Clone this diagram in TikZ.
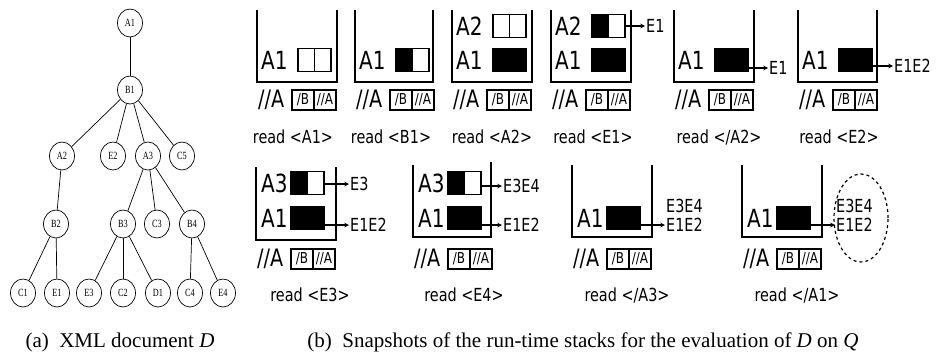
\documentclass[tikz,border=0pt]{standalone}
\usepackage{fontspec}
\setmainfont{Liberation Serif}
\newfontfamily\stackfont[FakeStretch=0.8]{DejaVu Sans}
\newfontfamily\treefont[FakeStretch=0.75]{Liberation Serif}
\usetikzlibrary{positioning,shapes.geometric}

\begin{document}
\begin{tikzpicture}[x=1pt, y=-1pt,
  tnode/.style={draw, ellipse, line width=0.7pt, minimum width=25pt, minimum height=28pt, inner sep=0pt, font=\treefont\fontsize{11}{11}\selectfont},
  tedge/.style={line width=0.7pt},
  wall/.style={line width=1.1pt},
  cell/.style={draw, line width=1.6pt, minimum width=16.5pt, minimum height=23pt, inner sep=0pt, outer sep=0pt},
  qcell/.style={draw, line width=1.3pt, minimum width=22pt, minimum height=20pt, inner sep=0pt, outer sep=0pt, font=\stackfont\fontsize{15}{15}\selectfont},
  elt/.style={anchor=west, inner sep=0pt, font=\stackfont\fontsize{25}{25}\selectfont},
  qry/.style={anchor=west, inner sep=0pt, font=\stackfont\fontsize{24}{24}\selectfont},
  res/.style={anchor=west, inner sep=1pt, font=\stackfont\fontsize{18}{18}\selectfont},
  lbl/.style={font=\stackfont\fontsize{18}{18}\selectfont},
  arr/.style={->, >=stealth, line width=1.1pt},
  subcap/.style={font=\fontsize{21}{21}\selectfont}
]
  \useasboundingbox (0,0) rectangle (941,354);

  % (a) the document tree
  \node[tnode] (a1) at (130,23)  {A1};
  \node[tnode] (b1) at (130,90)  {B1};
  \node[tnode] (a2) at (62,156)  {A2};
  \node[tnode] (e2) at (113,156) {E2};
  \node[tnode] (a3) at (148,156) {A3};
  \node[tnode] (c5) at (182,156) {C5};
  \node[tnode] (b2) at (56,224)  {B2};
  \node[tnode] (b3) at (123,224) {B3};
  \node[tnode] (c3) at (157,224) {C3};
  \node[tnode] (b4) at (192,224) {B4};
  \node[tnode] (c1) at (23,293)  {C1};
  \node[tnode] (e1) at (57,293)  {E1};
  \node[tnode] (e3) at (89,293)  {E3};
  \node[tnode] (c2) at (123,293) {C2};
  \node[tnode] (d1) at (158,293) {D1};
  \node[tnode] (c4) at (190,293) {C4};
  \node[tnode] (e4) at (223,293) {E4};

  \foreach \u/\v in {a1/b1, b1/a2, b1/e2, b1/a3, b1/c5, a2/b2, a3/b3, a3/c3, a3/b4,
                     b2/c1, b2/e1, b3/e3, b3/c2, b3/d1, b4/c4, b4/e4}
    \draw[tedge] (\u) -- (\v);

  \node[subcap] (capa) at (120,342) {(a)\enspace XML document \textit{D}};

  % (b) top row of stacks
  \draw[wall] (257,10) -- (257,82) -- (337,82) -- (337,10);
  \node[elt] (n1) at (261,60) {A1};
  \node[cell, anchor=west] (k1l) at (298,60) {};
  \node[cell, right=0pt of k1l] (k1r) {};

  \draw[wall] (355,10) -- (355,82) -- (433,82) -- (433,10);
  \node[elt] (n2) at (359,60) {A1};
  \node[cell, anchor=west, fill=black] (k2l) at (396,60) {};
  \node[cell, right=0pt of k2l] (k2r) {};

  \draw[wall] (452,10) -- (452,82) -- (532,82) -- (532,10);
  \node[elt] (n3u) at (456,26) {A2};
  \node[cell, anchor=west] (k3ul) at (493,26) {};
  \node[cell, right=0pt of k3ul] (k3ur) {};
  \node[elt] (n3) at (456,60) {A1};
  \node[cell, anchor=west, fill=black] (k3l) at (493,60) {};
  \node[cell, right=0pt of k3l, fill=black] (k3r) {};

  \draw[wall] (551,10) -- (551,82) -- (631,82) -- (631,10);
  \node[elt] (n4u) at (555,26) {A2};
  \node[cell, anchor=west, fill=black] (k4ul) at (592,26) {};
  \node[cell, right=0pt of k4ul] (k4ur) {};
  \node[elt] (n4) at (555,60) {A1};
  \node[cell, anchor=west, fill=black] (k4l) at (592,60) {};
  \node[cell, right=0pt of k4l, fill=black] (k4r) {};
  \node[res] (r4) at (645,26) {E1};
  \draw[arr] (k4ur.east) -- (r4.west);

  \draw[wall] (674,10) -- (674,82) -- (754,82) -- (754,10);
  \node[elt] (n5) at (678,60) {A1};
  \node[cell, anchor=west, fill=black] (k5l) at (715,60) {};
  \node[cell, right=0pt of k5l, fill=black] (k5r) {};
  \node[res] (r5) at (768,68) {E1};
  \draw[arr] (k5r.east |- r5.west) -- (r5.west);

  \draw[wall] (798,10) -- (798,82) -- (877,82) -- (877,10);
  \node[elt] (n6) at (802,60) {A1};
  \node[cell, anchor=west, fill=black] (k6l) at (839,60) {};
  \node[cell, right=0pt of k6l, fill=black] (k6r) {};
  \node[res] (r6) at (893,66) {E1E2};
  \draw[arr] (k6r.east |- r6.west) -- (r6.west);

  % (b) bottom row of stacks
  \draw[wall] (256,167) -- (256,240) -- (336,240) -- (336,167);
  \node[elt] (n7u) at (261,183) {A3};
  \node[cell, anchor=west, fill=black] (k7ul) at (291,183) {};
  \node[cell, right=0pt of k7ul] (k7ur) {};
  \node[elt] (n7) at (261,218) {A1};
  \node[cell, anchor=west, fill=black] (k7l) at (291,218) {};
  \node[cell, right=0pt of k7l, fill=black] (k7r) {};
  \node[res] (r7u) at (349,184) {E3};
  \node[res] (r7) at (349,225) {E1E2};
  \draw[arr] (k7ur.east |- r7u.west) -- (r7u.west);
  \draw[arr] (k7r.east |- r7.west) -- (r7.west);

  \draw[wall] (413,165) -- (413,237) -- (491,237) -- (491,162);
  \node[elt] (n8u) at (418,183) {A3};
  \node[cell, anchor=west, fill=black] (k8ul) at (448,183) {};
  \node[cell, right=0pt of k8ul] (k8ur) {};
  \node[elt] (n8) at (418,218) {A1};
  \node[cell, anchor=west, fill=black] (k8l) at (448,218) {};
  \node[cell, right=0pt of k8l, fill=black] (k8r) {};
  \node[res] (r8u) at (502,186) {E3E4};
  \node[res] (r8) at (502,225) {E1E2};
  \draw[arr] (k8ur.east |- r8u.west) -- (r8u.west);
  \draw[arr] (k8r.east |- r8.west) -- (r8.west);

  \draw[wall] (572,165) -- (572,237) -- (652,237) -- (652,165);
  \node[elt] (n9) at (577,218) {A1};
  \node[cell, anchor=west, fill=black] (k9l) at (607,218) {};
  \node[cell, right=0pt of k9l, fill=black] (k9r) {};
  \node[res] (r9u) at (665,206) {E3E4};
  \node[res] (r9) at (665,225) {E1E2};
  \draw[arr] (k9r.east |- r9.west) -- (r9.west);

  \draw[wall] (742,165) -- (742,237) -- (822,237) -- (822,165);
  \node[elt] (n10) at (747,218) {A1};
  \node[cell, anchor=west, fill=black] (k10l) at (777,218) {};
  \node[cell, right=0pt of k10l, fill=black] (k10r) {};
  \node[res] (r10u) at (835,206) {E3E4};
  \node[res] (r10) at (835,225) {E1E2};
  \draw[arr] (k10r.east |- r10.west) -- (r10.west);
  \node[draw, ellipse, dashed, line width=1.2pt, minimum width=54pt, minimum height=88pt] (out) at (861,218) {};

  % query rows and read events
  \foreach \i/\x/\y/\lx/\ly/\t in {1/257/100/293/137/{<A1>}, 2/355/100/391/137/{<B1>},
      3/452/100/492/137/{<A2>}, 4/551/100/593/137/{<E1>}, 5/674/100/719/137/{</A2>},
      6/798/100/839/137/{<E2>}, 7/256/259/310/295/{<E3>}, 8/413/259/464/295/{<E4>},
      9/572/259/627/295/{</A3>}, 10/742/259/797/295/{</A1>}} {
    \node[qry] (q\i) at (\x+1,\y) {//A};
    \node[qcell, anchor=west] (ql\i) at (\x+35,\y) {/B};
    \node[qcell, right=0pt of ql\i] (qr\i) {//A};
    \node[lbl] (rd\i) at (\lx,\ly) {read \t};
  }

  \node[subcap] (capb) at (583,342) {(b)\enspace Snapshots of the run-time stacks for the evaluation of \textit{D} on \textit{Q}};
\end{tikzpicture}
\end{document}
